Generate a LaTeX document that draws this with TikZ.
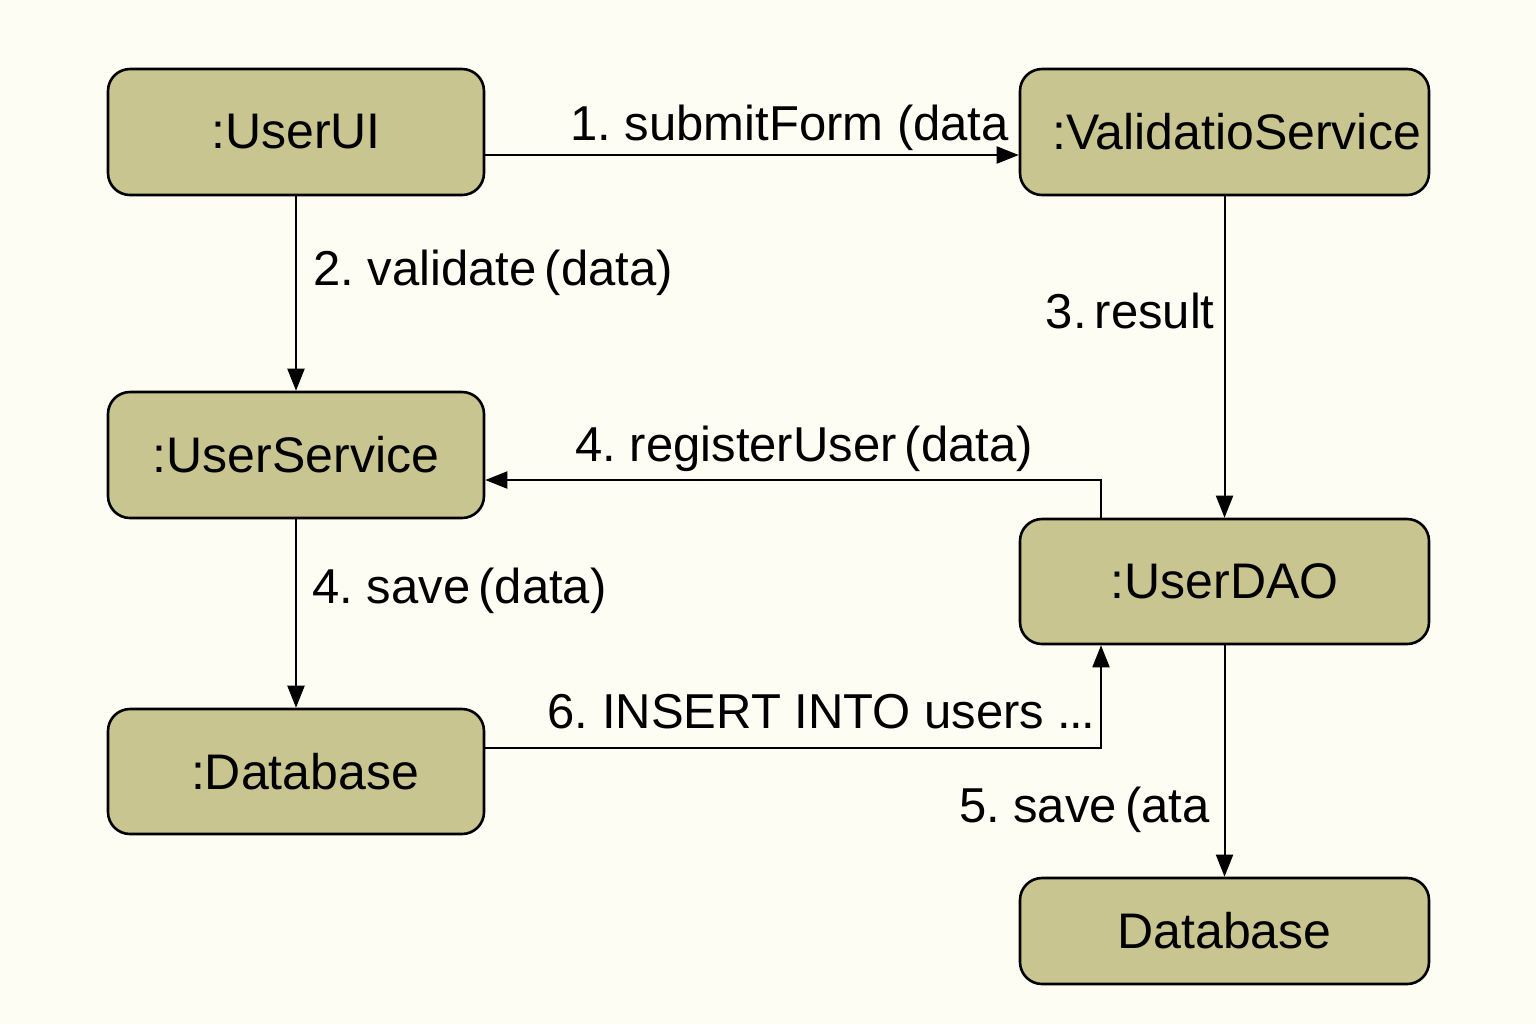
\documentclass[tikz,border=0pt]{standalone}
\usepackage{fontspec}
\setmainfont{Liberation Sans}
\usetikzlibrary{arrows.meta,calc}
\definecolor{bg}{HTML}{FDFDF4}
\definecolor{boxfill}{HTML}{C9C590}
\tikzset{
  obj/.style={draw=black, line width=1.3pt, fill=boxfill, rounded corners=11pt, font=\fontsize{25}{30}\selectfont, inner sep=0pt},
  msg/.style={line width=1pt, -{Triangle[length=11pt,width=8.5pt]}},
  lbl/.style={font=\fontsize{24.5}{30}\selectfont, inner sep=0pt}
}
\frenchspacing
\begin{document}
\begin{tikzpicture}[x=0.5pt,y=-0.5pt]
\fill[bg] (0,0) rectangle (1536,1024);
\useasboundingbox (0,0) rectangle (1536,1024);
\node[obj, minimum width=188pt, minimum height=63pt] (ui) at (296,132) {:UserUI};
\node[obj, minimum width=204.5pt, minimum height=63pt] (vs) at (1224.5,132) {\hspace*{12pt}:ValidatioService};
\node[obj, minimum width=188pt, minimum height=63pt] (us) at (296,455) {:UserService};
\node[obj, minimum width=204.5pt, minimum height=62.5pt] (dao) at (1224.5,581.5) {:UserDAO};
\node[obj, minimum width=188pt, minimum height=62.5pt] (db1) at (296,771.5) {\hspace*{9pt}:Database};
\node[obj, minimum width=204.5pt, minimum height=53pt] (db2) at (1224.5,931) {Database};
% connectors
\draw[msg] ([yshift=-11.5pt]ui.east) -- ([yshift=-11.5pt]vs.west);
\draw[msg] (ui.south) -- (us.north);
\draw[msg] (vs.south) -- (dao.north);
\coordinate (daoA) at ($(dao.north west)!0.2!(dao.north east)$);
\coordinate (daoB) at ($(dao.south west)!0.2!(dao.south east)$);
\draw[msg] (daoA) |- ([yshift=-12.5pt]us.east);
\draw[msg] (us.south) -- (db1.north);
\draw[msg] ([yshift=11.75pt]db1.east) -| (daoB);
\draw[msg] (dao.south) -- (db2.north);
% labels
\node[lbl, anchor=base west] (l1) at (570,140) {1. submitForm (data};
\node[lbl, anchor=base west] (l2) at (313,285) {2. validate\,(data)};
\node[lbl, anchor=base east] (l3) at (1215,328) {3.\,result};
\node[lbl, anchor=base west] (l4) at (575,461) {4. registerUser\,(data)};
\node[lbl, anchor=base west] (l5) at (312,603) {4. save\,(data)};
\node[lbl, anchor=base east] (l6) at (1095,728) {6. INSERT INTO users .\kern-1pt.\kern-1pt.};
\node[lbl, anchor=base east] (l7) at (1210,822) {5. save\,(ata};
\end{tikzpicture}
\end{document}
